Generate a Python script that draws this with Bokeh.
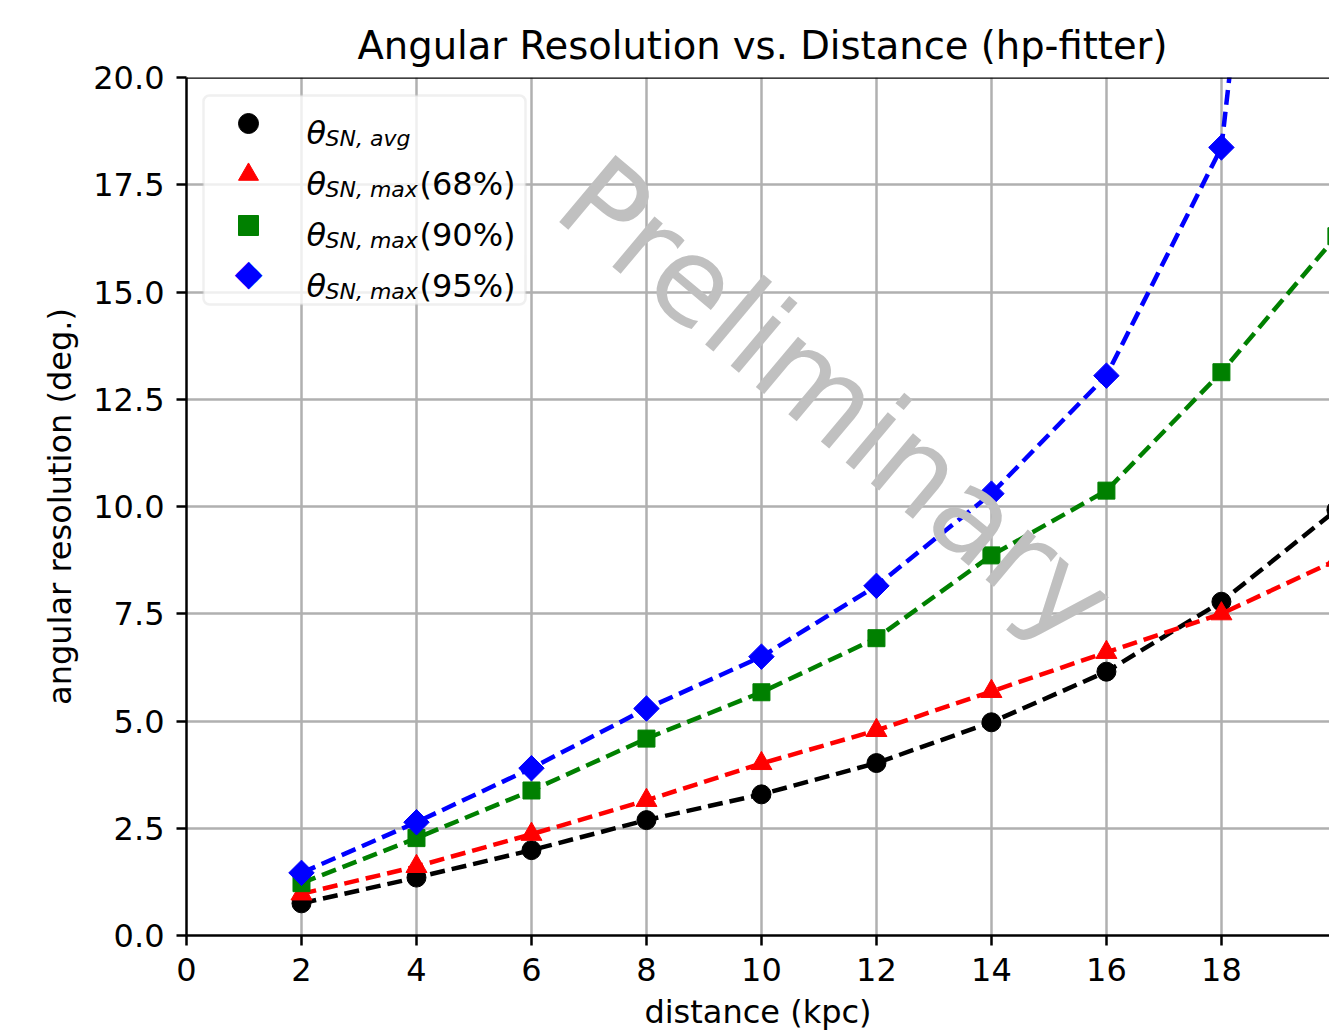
import math
from bokeh.plotting import figure
from bokeh.models import (FixedTicker, NumeralTickFormatter, Range1d, Span, Label,
                          Legend, LegendItem, BoxAnnotation)
from bokeh.embed import file_html
from bokeh.resources import INLINE

# ---- data ----
distance = [2, 4, 6, 8, 10, 12, 14, 16, 18, 20]
theta_avg = [0.75, 1.35, 1.99, 2.69, 3.29, 4.02, 4.97, 6.15, 7.78, 9.92]
theta_68 = [0.97, 1.61, 2.36, 3.15, 4.01, 4.78, 5.69, 6.60, 7.50, 8.75]
theta_90 = [1.22, 2.27, 3.38, 4.59, 5.67, 6.93, 8.86, 10.37, 13.13, 16.3]
theta_95 = [1.46, 2.64, 3.90, 5.29, 6.50, 8.15, 10.30, 13.05, 18.37, 42.0]

x_ticks = [0, 2, 4, 6, 8, 10, 12, 14, 16, 18, 20]
y_ticks = [0.0, 2.5, 5.0, 7.5, 10.0, 12.5, 15.0, 17.5, 20.0]

series_names = ["avg", "max", "max", "max"]
series_pct = ["", "(68%)", "(90%)", "(95%)"]
series_colors = ["black", "red", "green", "blue"]

FONT = "DejaVu Sans"
FRAME_LEFT, FRAME_TOP, FRAME_W, FRAME_H = 186, 77, 1143, 858
FRAME_BOTTOM = FRAME_TOP + FRAME_H

p = figure(width=1329, height=1033,
           output_backend="svg", toolbar_location=None,
           x_range=Range1d(0, 19.88), y_range=Range1d(0, 20),
           min_border_left=FRAME_LEFT, min_border_right=0,
           min_border_top=FRAME_TOP, min_border_bottom=98,
           background_fill_color="white", border_fill_color="white")
p.outline_line_color = None

p.title.text = "Angular Resolution vs. Distance (hp-fitter)"
p.title.text_font = FONT
p.title.text_font_size = "38.5px"
p.title.text_font_style = "normal"
p.title.align = "left"
p.title.offset = 171
p.title.standoff = 19
p.title.text_color = "black"

# axes
p.xaxis.ticker = FixedTicker(ticks=x_ticks)
p.yaxis.ticker = FixedTicker(ticks=y_ticks)
p.yaxis.formatter = NumeralTickFormatter(format="0.0")
p.xaxis.axis_label = "distance (kpc)"
p.yaxis.axis_label = "angular resolution (deg.)"
for ax in (p.xaxis, p.yaxis):
    ax.axis_line_color = "black"
    ax.axis_line_width = 2.5
    ax.major_tick_line_color = "black"
    ax.major_tick_line_width = 2.5
    ax.major_tick_out = 10
    ax.major_tick_in = 0
    ax.minor_tick_line_color = None
    ax.major_label_text_font = FONT
    ax.major_label_text_font_size = "32px"
    ax.major_label_text_color = "black"
    ax.axis_label_text_font = FONT
    ax.axis_label_text_font_size = "32px"
    ax.axis_label_text_font_style = "normal"
    ax.axis_label_text_color = "black"
p.xaxis.major_label_standoff = 12
p.xaxis.axis_label_standoff = 9
p.yaxis.major_label_standoff = 12
p.yaxis.axis_label_standoff = 11

p.xgrid.ticker = FixedTicker(ticks=x_ticks)
p.ygrid.ticker = FixedTicker(ticks=y_ticks)
p.grid.grid_line_color = "#b0b0b0"
p.grid.grid_line_width = 2.5

# top spine
p.add_layout(Span(location=20, dimension="width", line_color="black", line_width=2.5))

# series
series = [theta_avg, theta_68, theta_90, theta_95]
marker_specs = [
    dict(marker="circle", size=19, angle=0),
    dict(marker="triangle", size=21, angle=0),
    dict(marker="square", size=17, angle=0),
    dict(marker="square", size=18, angle=math.pi / 4),
]
renderers = []
for vals, col, ms in zip(series, series_colors, marker_specs):
    p.line(distance, vals, line_color=col, line_width=4.5, line_dash="15 7")
    r = p.scatter(distance, vals, marker=ms["marker"], size=ms["size"], angle=ms["angle"],
                  fill_color=col, line_color=col)
    renderers.append(r)

# legend frame (semi-transparent white box with rounded grey border)
p.add_layout(BoxAnnotation(left=203 - FRAME_LEFT, right=525 - FRAME_LEFT,
                           top=FRAME_BOTTOM - 95, bottom=FRAME_BOTTOM - 304,
                           left_units="screen", right_units="screen",
                           top_units="screen", bottom_units="screen",
                           fill_color="white", fill_alpha=0.8,
                           line_color="#cccccc", line_width=2.5, border_radius=6))

# legend swatches (fourth swatch is drawn separately as a rotated square)
ghost = p.scatter(x=[], y=[], marker="circle", size=1, fill_alpha=0, line_alpha=0)
items = [LegendItem(label=" ", renderers=[renderers[0]]),
         LegendItem(label=" ", renderers=[renderers[1]]),
         LegendItem(label=" ", renderers=[renderers[2]]),
         LegendItem(label=" ", renderers=[ghost])]
legend = Legend(items=items, location="top_left", margin=21, padding=7, spacing=1,
                glyph_width=82, glyph_height=50, label_height=50, label_width=215,
                label_standoff=5, label_text_font_size="10px",
                border_line_color=None, background_fill_alpha=0)
p.add_layout(legend)

# legend texts (screen units relative to frame: x from left edge, y from bottom edge)
baselines = [132, 183, 234, 285]
for name, pct, by in zip(series_names, series_pct, baselines):
    p.add_layout(Label(x=306 - FRAME_LEFT, y=FRAME_BOTTOM - by, x_units="screen", y_units="screen",
                       text="θ", text_font=FONT, text_font_size="32px", text_font_style="italic",
                       text_color="black", text_baseline="alphabetic", text_align="left"))
    p.add_layout(Label(x=325 - FRAME_LEFT, y=FRAME_BOTTOM - by - 5.5, x_units="screen", y_units="screen",
                       text="SN, " + name, text_font=FONT, text_font_size="22px", text_font_style="italic",
                       text_color="black", text_baseline="alphabetic", text_align="left"))
    if pct:
        p.add_layout(Label(x=419 - FRAME_LEFT, y=FRAME_BOTTOM - by, x_units="screen", y_units="screen",
                           text=pct, text_font=FONT, text_font_size="32px", text_font_style="normal",
                           text_color="black", text_baseline="alphabetic", text_align="left"))

# diamond swatch for the 95% entry
p.add_layout(Label(x=248 - FRAME_LEFT, y=FRAME_BOTTOM - 272, x_units="screen", y_units="screen",
                   text="◆", text_font=FONT, text_font_size="36px", text_color="blue",
                   text_align="center", text_baseline="middle"))

# watermark
p.add_layout(Label(x=836 - FRAME_LEFT, y=FRAME_BOTTOM - 400, x_units="screen", y_units="screen",
                   text="Preliminary", angle=-40, angle_units="deg",
                   text_font=FONT, text_font_size="120px", text_color="#c0c0c0",
                   text_align="center", text_baseline="middle", level="overlay"))

open("out.html", "w").write(file_html(p, INLINE))
